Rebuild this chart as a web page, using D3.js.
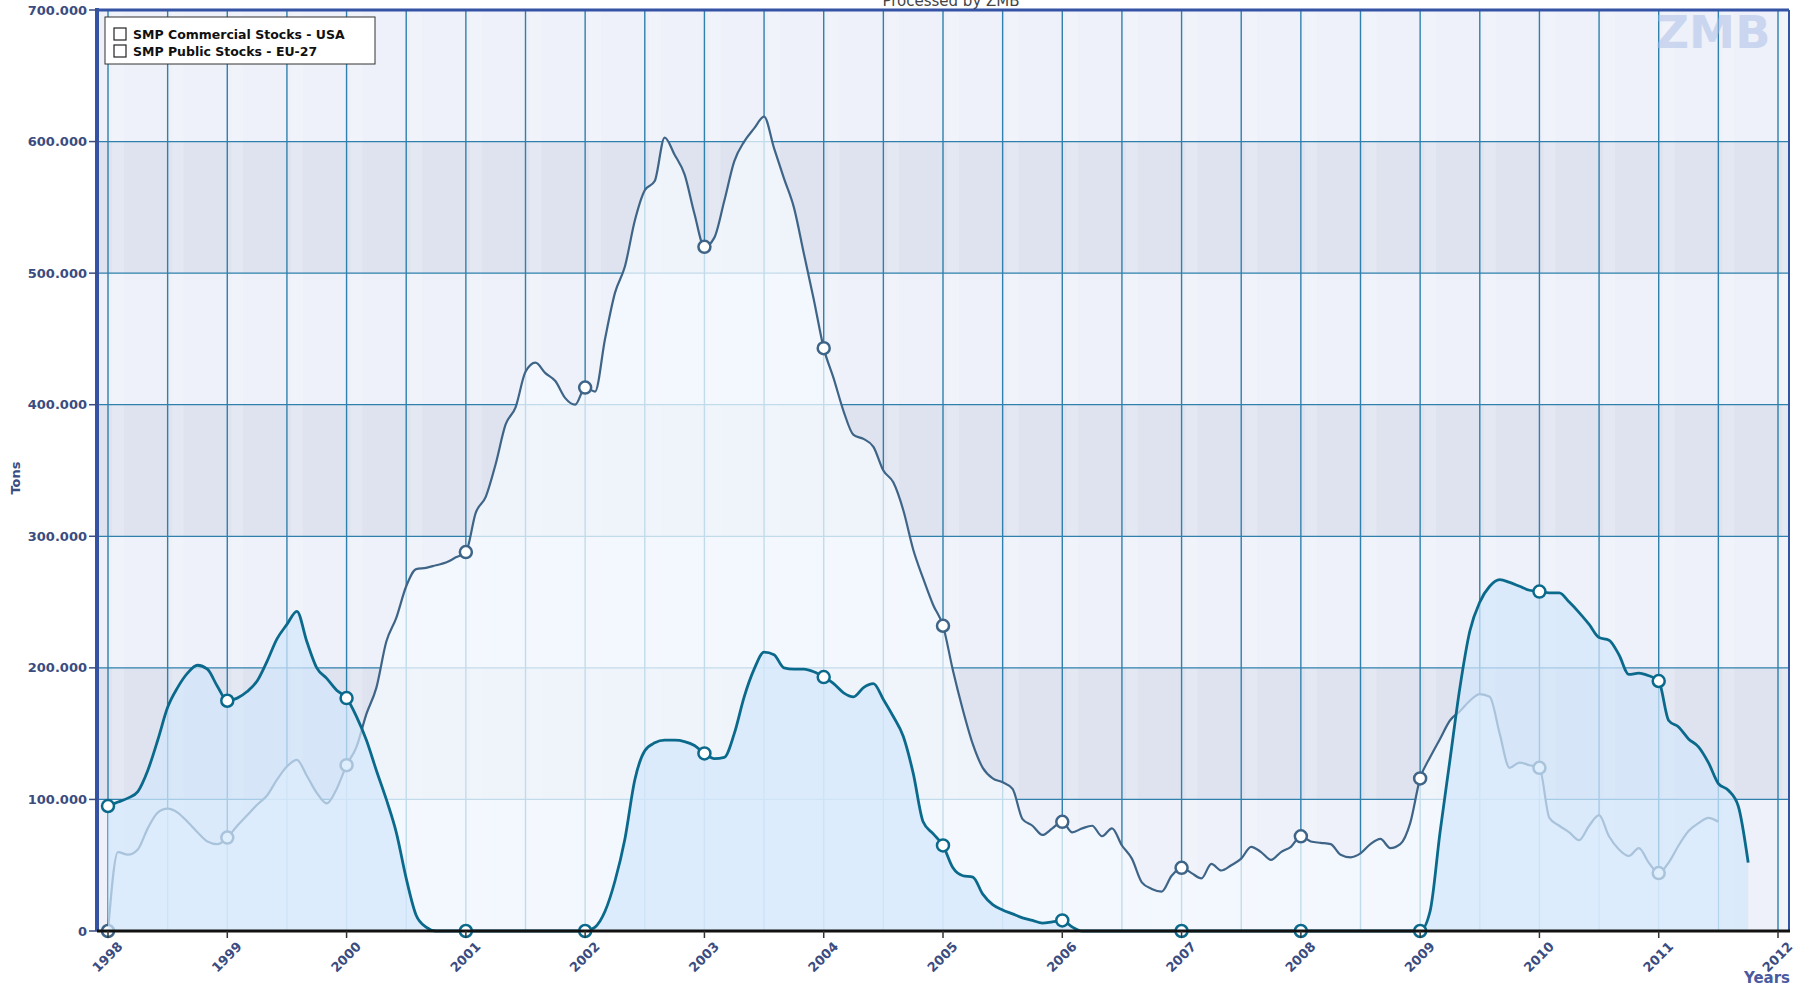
<!DOCTYPE html>
<html>
<head>
<meta charset="utf-8">
<script src="https://cdn.jsdelivr.net/npm/d3@7"></script>
<style>
  body { margin: 0; background: #fff; }
  text { font-family: "DejaVu Sans", Verdana, sans-serif; }
</style>
</head>
<body>
<script>
// monthly values in thousand tons, first value = Jan 1998
const startYear = 1998;

const usStocks = [
  0, 60, 58, 62, 78, 90, 93, 90, 83, 75, 68, 66,            // 1998
  71, 80, 88, 96, 103, 115, 125, 130, 118, 105, 97, 108,    // 1999
  126, 140, 165, 185, 220, 238, 262, 275, 276, 278, 280, 284, // 2000
  288, 318, 330, 355, 385, 398, 425, 432, 424, 418, 405, 400, // 2001
  413, 410, 450, 485, 505, 540, 563, 570, 603, 590, 575, 545, // 2002
  520, 527, 555, 585, 600, 610, 619, 595, 572, 550, 515, 480, // 2003
  443, 420, 395, 377, 374, 368, 350, 341, 320, 290, 268, 248, // 2004
  232, 198, 168, 142, 124, 116, 113, 108, 85, 80, 73, 78,     // 2005
  83, 75, 78, 80, 72, 78, 65, 55, 37, 32, 30, 42,             // 2006
  48, 44, 40, 51, 46, 50, 55, 64, 60, 54, 60, 64,             // 2007
  72, 68, 67, 66, 58, 56, 59, 66, 70, 63, 66, 82,             // 2008
  116, 132, 146, 160, 167, 175, 180, 178, 150, 124, 128, 126, // 2009
  124, 86, 80, 75, 69, 80, 88, 72, 62, 57, 63, 52,            // 2010
  44, 52, 65, 76, 82, 86, 83                                  // 2011
];

const euStocks = [
  95, 98, 101, 106, 122, 145, 170, 185, 196, 202, 199, 186,   // 1998
  175, 177, 182, 190, 205, 222, 233, 243, 220, 200, 192, 183, // 1999
  177, 163, 145, 122, 100, 75, 40, 12, 3, 0, 0, 0,            // 2000
  0, 0, 0, 0, 0, 0, 0, 0, 0, 0, 0, 0,                         // 2001
  0, 3, 15, 38, 70, 115, 137, 143, 145, 145, 144, 141,        // 2002
  135, 131, 132, 150, 178, 199, 212, 210, 200, 199, 199, 197, // 2003
  193, 188, 181, 178, 185, 188, 176, 163, 148, 120, 83, 74,   // 2004
  65, 48, 42, 41, 28, 20, 16, 13, 10, 8, 6, 7,                // 2005
  8, 3, 0, 0, 0, 0, 0, 0, 0, 0, 0, 0,                         // 2006
  0, 0, 0, 0, 0, 0, 0, 0, 0, 0, 0, 0,                         // 2007
  0, 0, 0, 0, 0, 0, 0, 0, 0, 0, 0, 0,                         // 2008
  0, 15, 75, 130, 185, 228, 250, 262, 267, 265, 262, 259,     // 2009
  258, 257, 257, 250, 242, 233, 223, 221, 210, 195, 196, 194, // 2010
  190, 160, 155, 146, 140, 128, 112, 107, 95, 52              // 2011
];

const yTicks = [0, 100, 200, 300, 400, 500, 600, 700];
const xTicks = d3.range(1998, 2013);
const legendLabels = ["SMP Commercial Stocks - USA", "SMP Public Stocks - EU-27"];

const W = 1806, H = 988;
const pLeft = 97, pRight = 1789, pTop = 10, pBottom = 931;

const svg = d3.select("body").append("svg").attr("width", W).attr("height", H);

const x = d3.scaleLinear().domain([1998, 2012]).range([108, 1778]);
const y = d3.scaleLinear().domain([0, 700]).range([pBottom, pTop]);

const toPoints = arr => arr.map((v, i) => [startYear + i / 12, v]);
const us = toPoints(usStocks);
const eu = toPoints(euStocks);

// background bands
svg.append("rect").attr("x", pLeft).attr("y", pTop).attr("width", pRight - pLeft).attr("height", pBottom - pTop)
  .attr("fill", "#eef1f9");
svg.selectAll(".band").data([100, 300, 500]).enter().append("rect")
  .attr("x", pLeft).attr("y", d => y(d + 100)).attr("width", pRight - pLeft)
  .attr("height", d => y(d) - y(d + 100)).attr("fill", "#dfe3ef");

const halfYears = d3.range(1998, 2012.01, 0.5);
svg.selectAll(".stripe").data(halfYears).enter().append("rect")
  .attr("x", d => x(d) + 4).attr("y", pTop).attr("width", 12).attr("height", pBottom - pTop)
  .attr("fill", "#ffffff").attr("opacity", 0.18);

// grid
svg.selectAll(".vg").data(halfYears).enter().append("line")
  .attr("x1", d => x(d)).attr("x2", d => x(d)).attr("y1", pTop).attr("y2", pBottom)
  .attr("stroke", "#2f80ac").attr("stroke-width", 1.4);
svg.selectAll(".hg").data(yTicks.slice(1, -1)).enter().append("line")
  .attr("x1", pLeft).attr("x2", pRight).attr("y1", d => y(d)).attr("y2", d => y(d))
  .attr("stroke", "#2f80ac").attr("stroke-width", 1.3);

const area = d3.area().x(d => x(d[0])).y0(pBottom).y1(d => y(d[1])).curve(d3.curveMonotoneX);
const line = d3.line().x(d => x(d[0])).y(d => y(d[1])).curve(d3.curveMonotoneX);

function drawSeries(pts, fill, fillOp, stroke, width) {
  svg.append("path").attr("d", area(pts)).attr("fill", fill).attr("opacity", fillOp);
  svg.append("path").attr("d", line(pts)).attr("fill", "none")
    .attr("stroke", stroke).attr("stroke-width", width);
  svg.append("g").selectAll("circle").data(pts.filter((d, i) => i % 12 == 0)).enter()
    .append("circle").attr("cx", d => x(d[0])).attr("cy", d => y(d[1])).attr("r", 6)
    .attr("fill", "#fff").attr("stroke", stroke).attr("stroke-width", 2.5);
}

drawSeries(us, "#f4f9ff", 0.75, "#3e6487", 2.2);
drawSeries(eu, "#d2e7fb", 0.72, "#0b6a8c", 2.8);

// frame
svg.append("line").attr("x1", pLeft).attr("x2", pRight).attr("y1", pTop).attr("y2", pTop)
  .attr("stroke", "#3553a5").attr("stroke-width", 3);
svg.append("line").attr("x1", pRight).attr("x2", pRight).attr("y1", pTop).attr("y2", pBottom)
  .attr("stroke", "#3553a5").attr("stroke-width", 2);
svg.append("line").attr("x1", pLeft).attr("x2", pLeft).attr("y1", pTop - 2).attr("y2", pBottom)
  .attr("stroke", "#3553a5").attr("stroke-width", 4);
svg.append("line").attr("x1", pLeft).attr("x2", pRight + 1).attr("y1", pBottom).attr("y2", pBottom)
  .attr("stroke", "#111").attr("stroke-width", 3);

// y axis
const yAxis = svg.append("g");
yAxis.selectAll("line").data(yTicks).enter().append("line")
  .attr("x1", pLeft - 8).attr("x2", pLeft).attr("y1", d => y(d)).attr("y2", d => y(d))
  .attr("stroke", "#3a4c80").attr("stroke-width", 1.5);
yAxis.selectAll("text").data(yTicks).enter().append("text")
  .attr("x", pLeft - 10).attr("y", d => y(d)).attr("dy", "0.35em")
  .attr("text-anchor", "end").attr("font-size", 13).attr("font-weight", "bold")
  .attr("fill", "#3a4c80")
  .text(d => d == 0 ? "0" : d + ".000");

// x axis
const xAxis = svg.append("g");
xAxis.selectAll("line").data(xTicks).enter().append("line")
  .attr("x1", d => x(d)).attr("x2", d => x(d)).attr("y1", pBottom).attr("y2", pBottom + 7)
  .attr("stroke", "#333").attr("stroke-width", 1.5);
xAxis.selectAll("text").data(xTicks).enter().append("text")
  .attr("transform", d => `translate(${x(d) + 9},${pBottom + 10}) rotate(-45)`)
  .attr("text-anchor", "end").attr("dy", "0.7em").attr("font-size", 13).attr("font-weight", "bold")
  .attr("fill", "#3a4c80").text(d => d);

svg.append("text").attr("x", pRight + 1).attr("y", 983).attr("text-anchor", "end")
  .attr("font-size", 15).attr("font-weight", "bold").attr("fill", "#4a5a9e").text("Years");
svg.append("text").attr("transform", `translate(20,478) rotate(-90)`).attr("text-anchor", "middle")
  .attr("font-size", 13).attr("font-weight", "bold").attr("fill", "#3a4c80").text("Tons");

// title (mostly above the top edge, as in the source) and watermark
svg.append("text").attr("x", 951).attr("y", 6).attr("text-anchor", "middle")
  .attr("font-size", 15).attr("fill", "#444").text("Processed by ZMB");
svg.append("text").attr("x", 1713).attr("y", 48).attr("text-anchor", "middle")
  .attr("font-size", 44).attr("font-weight", "bold").attr("fill", "#a8bde6").attr("opacity", 0.5)
  .attr("textLength", 115).attr("lengthAdjust", "spacingAndGlyphs").text("ZMB");

// legend
const lg = svg.append("g");
lg.append("rect").attr("x", 105).attr("y", 17).attr("width", 270).attr("height", 47)
  .attr("fill", "#fff").attr("stroke", "#333").attr("stroke-width", 1);
lg.selectAll(".sq").data(legendLabels).enter().append("rect")
  .attr("x", 114).attr("y", (d, i) => 28 + i * 17).attr("width", 12).attr("height", 12)
  .attr("fill", "#fff").attr("stroke", "#222").attr("stroke-width", 1.2);
lg.selectAll(".lt").data(legendLabels).enter().append("text")
  .attr("x", 133).attr("y", (d, i) => 39 + i * 17).attr("font-size", 12.5).attr("font-weight", "bold")
  .attr("fill", "#111").text(d => d);
</script>
</body>
</html>
